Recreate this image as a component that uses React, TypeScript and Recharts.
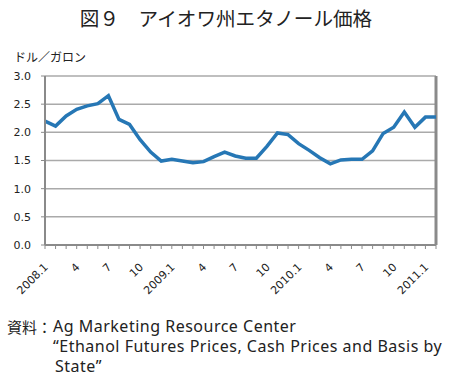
import React from "react";
import { LineChart, Line, XAxis, YAxis, CartesianGrid, ReferenceLine } from "recharts";

const categories = [
  "2008.1","2008.2","2008.3","2008.4","2008.5","2008.6","2008.7","2008.8","2008.9","2008.10","2008.11","2008.12",
  "2009.1","2009.2","2009.3","2009.4","2009.5","2009.6","2009.7","2009.8","2009.9","2009.10","2009.11","2009.12",
  "2010.1","2010.2","2010.3","2010.4","2010.5","2010.6","2010.7","2010.8","2010.9","2010.10","2010.11","2010.12",
  "2011.1","2011.2",
];

const prices = [
  2.20, 2.11, 2.29, 2.41, 2.47, 2.51, 2.65, 2.23, 2.14, 1.87, 1.65, 1.49,
  1.52, 1.49, 1.46, 1.48, 1.57, 1.65, 1.58, 1.54, 1.54, 1.75, 1.99, 1.96,
  1.80, 1.68, 1.55, 1.44, 1.51, 1.52, 1.52, 1.67, 1.98, 2.09, 2.36, 2.09,
  2.27, 2.27,
];

const yTicks = [0, 0.5, 1.0, 1.5, 2.0, 2.5, 3.0];
const shownMonths = ["1", "4", "7", "10"];

const title = "図９　アイオワ州エタノール価格";
const unitLabel = "ドル／ガロン";
const sourceLines = [
  "資料：",
  "Ag Marketing Resource Center",
  "“Ethanol Futures Prices, Cash Prices and Basis by",
  "State”",
];

const data = categories.map((c, i) => ({ month: c, price: prices[i] }));

const tickText = (v: string) => {
  const [yr, m] = v.split(".");
  if (!shownMonths.includes(m)) return "";
  return m === "1" ? `${yr}.${m}` : m;
};

const XTick = (props: any) => {
  const { x, y, payload } = props;
  const t = tickText(String(payload.value));
  if (!t) return null;
  return (
    <g transform={`translate(${x + 1},${y + 14})`}>
      <text
        transform="rotate(-45)"
        textAnchor="end"
        dy="0.35em"
        fontSize={11}
        fontFamily="DejaVu Sans"
        fill="#222"
      >
        {t}
      </text>
    </g>
  );
};

export default function App() {
  return (
    <div style={{ position: "absolute", left: 0, top: 0, width: 449, height: 384, background: "#fff", fontFamily: "'Noto Sans CJK JP'" }}>
      <div style={{ position: "absolute", left: 0, width: 452, top: 5, textAlign: "center", fontSize: 19.6, lineHeight: "26px", color: "#222" }}>
        {title}
      </div>
      <div style={{ position: "absolute", left: 14, top: 49, fontSize: 12, lineHeight: "16px", color: "#222" }}>
        {unitLabel}
      </div>
      <LineChart
        width={449}
        height={310}
        data={data}
        margin={{ top: 76, right: 13, left: 0, bottom: 10 }}
        style={{ position: "absolute", left: 0, top: 0 }}
      >
        <CartesianGrid vertical={false} stroke="#aaaaaa" strokeWidth={1.5} />
        <XAxis
          dataKey="month"
          interval={0}
          tick={<XTick />}
          tickSize={4}
          height={55}
          axisLine={{ stroke: "#8a8a8a", strokeWidth: 2 }}
          tickLine={{ stroke: "#8a8a8a", strokeWidth: 1 }}
        />
        <YAxis
          domain={[0, 3]}
          ticks={yTicks}
          width={45}
          tickSize={4}
          tickMargin={10}
          tickFormatter={(v: number) => v.toFixed(1)}
          tick={{ fontSize: 11, fontFamily: "DejaVu Sans", fill: "#222" }}
          axisLine={{ stroke: "#8a8a8a", strokeWidth: 2 }}
          tickLine={{ stroke: "#8a8a8a", strokeWidth: 1 }}
        />
        <ReferenceLine x="2011.2" stroke="#8a8a8a" strokeWidth={3} />
        <Line
          type="linear"
          dataKey="price"
          stroke="#2677b5"
          strokeWidth={3.5}
          dot={false}
          isAnimationActive={false}
        />
      </LineChart>
      <div style={{ position: "absolute", left: 7, top: 317, fontSize: 16, lineHeight: "19px", color: "#222", whiteSpace: "pre" }}>
        <div style={{ position: "absolute", left: 0, top: 0, fontSize: 15 }}>{sourceLines[0]}</div>
        <div style={{ position: "absolute", left: 46, top: 0, fontFamily: "'Noto Sans'", letterSpacing: 0.5 }}>{sourceLines[1]}</div>
        <div style={{ position: "absolute", left: 46, top: 20, fontFamily: "'Noto Sans'", letterSpacing: 0.5 }}>{sourceLines[2]}</div>
        <div style={{ position: "absolute", left: 48, top: 40, fontFamily: "'Noto Sans'", letterSpacing: 0.5 }}>{sourceLines[3]}</div>
      </div>
    </div>
  );
}
